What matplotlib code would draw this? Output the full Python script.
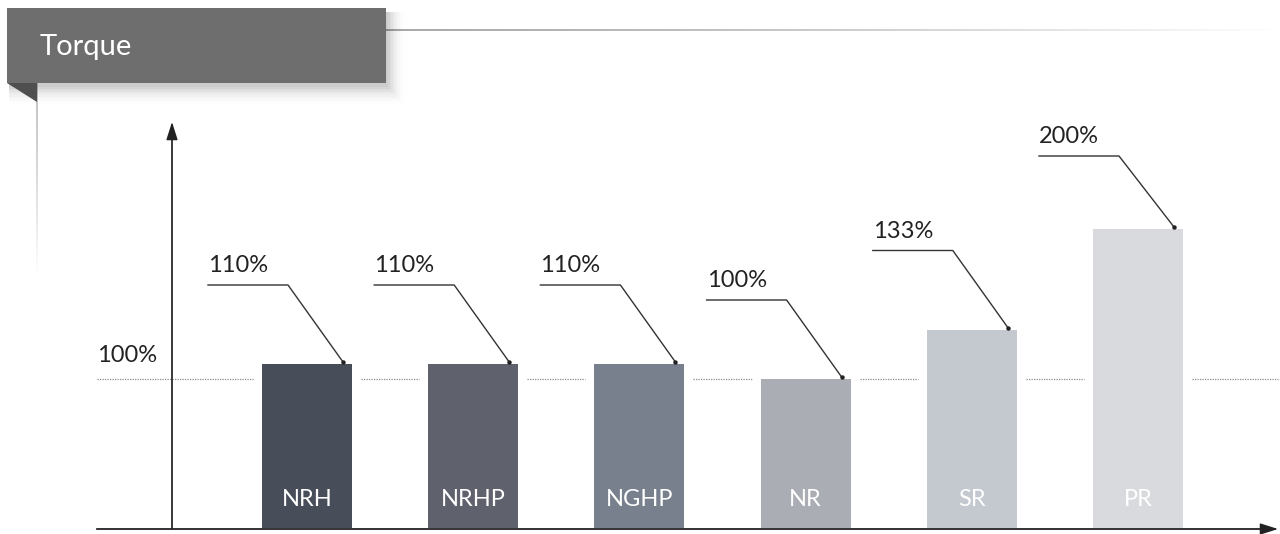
import matplotlib
matplotlib.use("Agg")
import matplotlib.pyplot as plt
import numpy as np
from matplotlib.patches import Rectangle, Polygon
from matplotlib.collections import LineCollection

plt.rcParams['font.family'] = ['Lato', 'DejaVu Sans']

title = "Torque"
names = ["NRH", "NRHP", "NGHP", "NR", "SR", "PR"]
values = [110, 110, 110, 100, 133, 200]
labels = ["110%", "110%", "110%", "100%", "133%", "200%"]
colors = ["#474d59", "#5f616c", "#78808e", "#abadb5", "#c4c8cf", "#d8dade"]
ref_value = 100
ref_label = "100%"

W, H = 1280, 534
fig = plt.figure(figsize=(W / 100, H / 100), dpi=100)

# pixel -> data mapping: bar i centered at 307 + 166.2*i px, y=0 at 529 px, 1.5 px per %
step = 166.2
x0px = 307
ppu = 1.5
base_px = 529

ax = fig.add_axes([0, 0, 1, 1])
ax.set_xlim(-x0px / step, (W - x0px) / step)
ax.set_ylim(-(H - base_px) / ppu, base_px / ppu)
ax.axis("off")

x = np.arange(len(names))
bw = 90 / step
ax.bar(x, values, width=bw, color=colors, zorder=3)

for i, n in enumerate(names):
    ax.text(x[i], 20, n, ha="center", va="center", color="white", fontsize=17, zorder=4)

# dotted 100% reference line, broken around bars
gap = 9 / step
xl = (97 - x0px) / step
xr = (1278 - x0px) / step
edges = [xl]
for xi in x:
    edges += [xi - bw / 2 - gap, xi + bw / 2 + gap]
edges.append(xr)
for a, b in zip(edges[::2], edges[1::2]):
    ax.plot([a, b], [ref_value, ref_value], color="#8a8a8a", lw=0.9,
            linestyle=(0, (1, 1)), zorder=2)
ax.text(xl, ref_value + 9, ref_label, ha="left", va="bottom", fontsize=17, color="#222222")

# axes with arrows
yax = (172 - x0px) / step
ytop = (base_px - 122) / ppu
ax.annotate("", xy=(yax, ytop), xytext=(yax, 0),
            arrowprops=dict(arrowstyle="-|>,head_length=1.1,head_width=0.35",
                            color="#222222", lw=1.0, shrinkA=0, shrinkB=0), zorder=5)
ax.plot([yax, yax], [0, ytop - 8], color="#666666", lw=1.2, zorder=4)
ax.annotate("", xy=(xr, 0), xytext=(xl, 0),
            arrowprops=dict(arrowstyle="-|>,head_length=1.1,head_width=0.35",
                            color="#222222", lw=1.0, shrinkA=0, shrinkB=0), zorder=5)
ax.plot([xl, xr - 0.08], [0, 0], color="#666666", lw=1.4, zorder=4)

# value callouts
for i, v in enumerate(values):
    left = x[i] - bw / 2
    ly = v + 79 / ppu
    if v >= 200:
        ly = v + 73 / ppu
    hx0 = left - 54 / step
    hx1 = left + 26 / step
    ex = x[i] + 36 / step
    ey = v + 2 / ppu
    ax.plot([hx0, hx1, ex], [ly, ly, ey], color="#333333", lw=1.0, zorder=5)
    ax.plot(ex, ey, "o", ms=2.2, color="#222222", zorder=5)
    ax.text(hx0, ly + 6, labels[i], ha="left", va="bottom", fontsize=17, color="#222222")

# decoration layer in pixel coordinates
deco = fig.add_axes([0, 0, 1, 1], zorder=-1)
deco.set_xlim(0, W)
deco.set_ylim(H, 0)
deco.axis("off")
top = fig.add_axes([0, 0, 1, 1], zorder=10)
top.set_xlim(0, W)
top.set_ylim(H, 0)
top.axis("off")

# fading top rule and left rule
n = 200
xs = np.linspace(386, W, n + 1)
segs = [[(xs[k], 30), (xs[k + 1], 30)] for k in range(n)]
al = np.clip(1 - np.linspace(0, 1, n) ** 1.3, 0, 1)
deco.add_collection(LineCollection(segs, colors=[(0.6, 0.6, 0.6, a) for a in al], lw=1.2))
ys = np.linspace(83, 275, n + 1)
segs = [[(37, ys[k]), (37, ys[k + 1])] for k in range(n)]
deco.add_collection(LineCollection(segs, colors=[(0.72, 0.72, 0.72, a) for a in al], lw=1.2))

# soft shadow under the title box
for k in range(12):
    a = 0.03 * (1 - k / 12)
    top.add_patch(Rectangle((7 + 2, 8 + 4), 379 + k * 1.5, 75 + k * 1.6,
                            facecolor=(0, 0, 0, a), edgecolor="none"))
top.add_patch(Rectangle((7, 8), 379, 75, facecolor="#6e6e6e", edgecolor="none"))
top.add_patch(Polygon([(7, 83), (37, 83), (37, 102)], closed=True,
                      facecolor="#4f4f4f", edgecolor="none"))
top.text(40, 47, title, ha="left", va="center", color="white", fontsize=21)

fig.savefig("out.png", dpi=100, facecolor="white")
